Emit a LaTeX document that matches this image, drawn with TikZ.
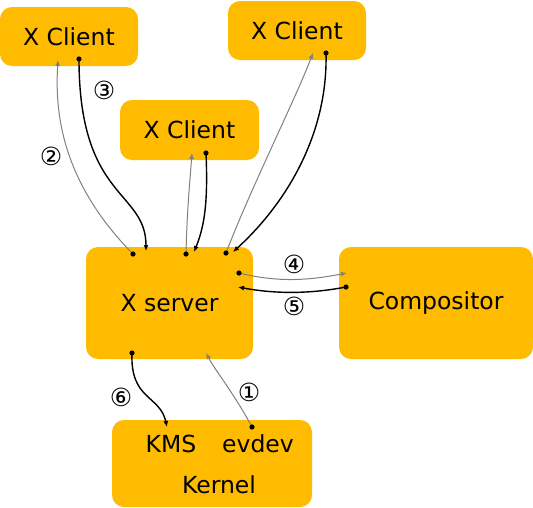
\documentclass[tikz,border=0pt]{standalone}
\usepackage{fontspec}
\setmainfont{DejaVu Sans}
\usetikzlibrary{arrows.meta}
\definecolor{boxorange}{RGB}{255,187,0}
\definecolor{arrgray}{RGB}{128,128,128}
\begin{document}
\begin{tikzpicture}[x=1pt,y=-1pt,
  box/.style={fill=boxorange, rounded corners=12pt, inner sep=0pt, font=\fontsize{23.5}{27}\selectfont},
  num/.style={font=\fontsize{25}{27}\selectfont, inner sep=0pt},
  lbl/.style={font=\fontsize{23.5}{27}\selectfont, inner sep=0pt, anchor=base},
  grayarr/.style={draw=arrgray, line width=1pt, -{Latex[length=6pt,width=5pt]}},
  blackarr/.style={draw=black, line width=1.4pt, -{Latex[length=6pt,width=5pt]}},
  startdot/.style={fill=black}]
\useasboundingbox (0,0) rectangle (533,507);
% boxes
\node[box, minimum width=138pt, minimum height=59pt] (c1) at (69,36.5) {X Client};
\node[box, minimum width=138pt, minimum height=59pt] (c2) at (297,30.5) {X Client};
\node[box, minimum width=139pt, minimum height=60pt] (c3) at (189.5,130) {X Client};
\node[box, minimum width=167pt, minimum height=112pt] (xs) at (169.5,303) {X server};
\node[box, minimum width=194pt, minimum height=112pt] (comp) at (436,303) {Compositor};
\node[box, minimum width=200pt, minimum height=87pt] (kern) at (212,463.5) {};
\node[lbl] (kms) at (171,452) {KMS};
\node[lbl] (evdev) at (258,452) {evdev};
\node[lbl] (kernel) at (219,493) {Kernel};
% connector end points
\coordinate (xsA) at (133,254);
\coordinate (xsB) at (146,251);
\coordinate (xsC) at (186,254);
\coordinate (xsD) at (194,252);
\coordinate (xsE) at (226,253);
\coordinate (xsF) at (233,252);
\coordinate (xsG) at (239,273);
\coordinate (xsH) at (238,287);
\coordinate (xsI) at (132,353);
\coordinate (xsJ) at (206,353);
\coordinate (c1A) at (58,60);
\coordinate (c1B) at (79,59);
\coordinate (c3A) at (192,153);
\coordinate (c3B) at (206,153);
\coordinate (c2A) at (313,53);
\coordinate (c2B) at (326,53);
\coordinate (compA) at (347,273);
\coordinate (compB) at (346,287);
\coordinate (kmsA) at (167,427);
\coordinate (evA) at (252,427);
% connectors
\draw[grayarr] (xsA) .. controls (60,180) and (55,110) .. (c1A);
\draw[blackarr] (c1B) .. controls (79,200) and (146,190) .. (xsB);
\draw[grayarr] (xsC) .. controls (187,210) and (190,180) .. (c3A);
\draw[blackarr] (c3B) .. controls (208,200) and (205,225) .. (xsD);
\draw[grayarr] (xsE) .. controls (250,190) and (295,100) .. (c2A);
\draw[blackarr] (c2B) .. controls (328,130) and (290,200) .. (xsF);
\draw[grayarr] (xsG) .. controls (280,283) and (310,280) .. (compA);
\draw[blackarr] (compB) .. controls (310,294) and (275,294) .. (xsH);
\draw[blackarr] (xsI) .. controls (130,400) and (160,395) .. (kmsA);
\draw[grayarr] (evA) .. controls (235,395) and (215,370) .. (xsJ);
% dots
\foreach \p in {xsA,c1B,xsC,c3B,xsE,c2B,xsG,compB,xsI,evA}
  \fill[startdot] (\p) circle (2.6pt);
% labels
\node[num] (n2) at (51,156) {②};
\node[num] (n3) at (104,90) {③};
\node[num] (n4) at (294,264) {④};
\node[num] (n5) at (294,306) {⑤};
\node[num] (n6) at (121,397) {⑥};
\node[num] (n1) at (249,392) {①};
\end{tikzpicture}
\end{document}
